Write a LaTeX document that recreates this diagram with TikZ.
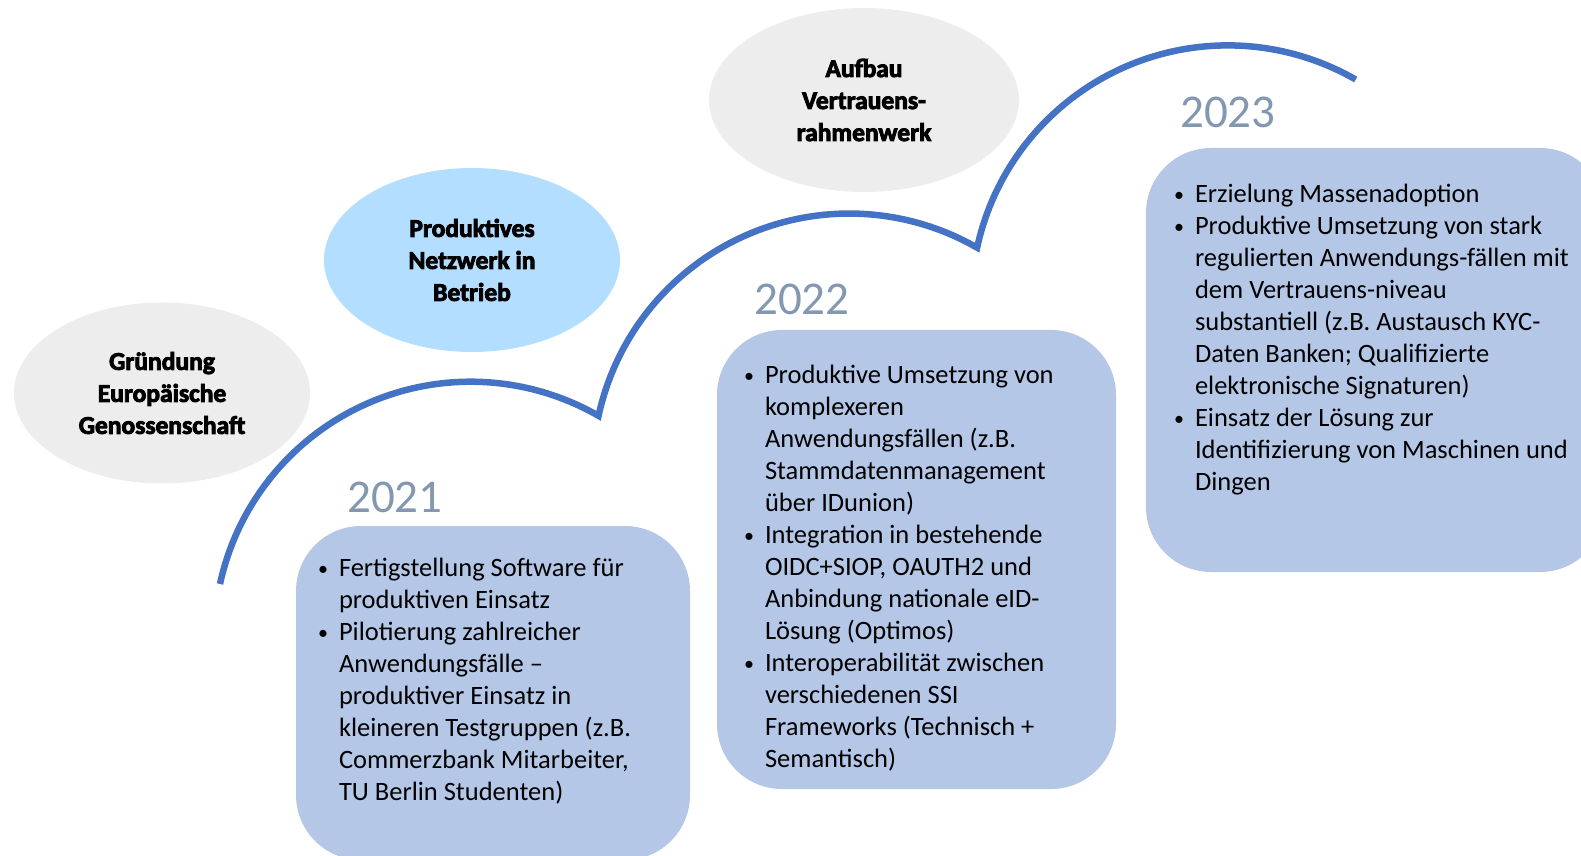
\documentclass[tikz,border=0pt]{standalone}
\usepackage{fontspec}
\setmainfont{Carlito}[BoldFeatures={FakeBold=3.5}]
\usepackage{tikz}
\usetikzlibrary{calc,shapes.geometric}
\definecolor{arcblue}{HTML}{4472C4}
\definecolor{boxblue}{HTML}{B4C7E7}
\definecolor{ovalgray}{HTML}{EDEDED}
\definecolor{ovalblue}{HTML}{B4DEFF}
\definecolor{yeargray}{HTML}{8497B0}
\newcommand{\itembullet}{\makebox[9pt][c]{\raisebox{1.5pt}{\fontsize{20}{20}\selectfont\textbullet}}}

\begin{document}
\begin{tikzpicture}[x=1pt,y=1pt,
  oval/.style={ellipse,inner sep=0pt,align=center,font=\fontsize{25.5}{32}\selectfont\bfseries},
  phase/.style={rounded corners=65pt,fill=boxblue,inner sep=0pt},
  year/.style={anchor=base west,inner sep=0pt,text=yeargray,font=\fontsize{47}{47}\selectfont},
  items/.style={anchor=base west,inner sep=0pt,font=\fontsize{26.5}{32}\selectfont}]
\useasboundingbox (0,0) rectangle (1581,855);
\clip (0,0) rectangle (1581,855);

\node[oval,fill=ovalgray,minimum width=296pt,minimum height=181pt] (gruendung) at (162,462)
  {Gründung\\Europäische\\Genossenschaft};
\node[oval,fill=ovalblue,minimum width=296pt,minimum height=184pt] (netzwerk) at (472,595)
  {Produktives\\Netzwerk in\\Betrieb};
\node[oval,fill=ovalgray,minimum width=310pt,minimum height=184pt] (rahmenwerk) at (864,755)
  {Aufbau\\Vertrauens-\\rahmenwerk};

\coordinate (s0) at (220,271);
\draw[arcblue,line width=6.5pt] (s0)
  arc[start angle=167.8,end angle=60.1,radius=256.5]
  arc[start angle=167.8,end angle=60.1,radius=256.5]
  arc[start angle=167.8,end angle=60.1,radius=256.5];

\node[phase,minimum width=394pt,minimum height=334pt] (box21) at (493,162) {};
\node[phase,minimum width=399pt,minimum height=459pt] (box22) at (916.5,295.5) {};
\node[phase,minimum width=459pt,minimum height=424pt] (box23) at (1375.5,495) {};

\node[year] (y21) at (347,343) {2021};
\node[year] (y22) at (754,540) {2022};
\node[year] (y23) at (1180,727) {2023};

\node[items] (txt21) at ($(box21.north west)+(22.5,-51)$) {%
  \begin{tabular}[t]{@{}l@{\hspace{11.5pt}}l@{}}
  \itembullet & Fertigstellung Software für\\
              & produktiven Einsatz\\
  \itembullet & Pilotierung zahlreicher\\
              & Anwendungsfälle –\\
              & produktiver Einsatz in\\
              & kleineren Testgruppen (z.B.\\
              & Commerzbank Mitarbeiter,\\
              & TU Berlin Studenten)
  \end{tabular}};
\node[items] (txt22) at ($(box22.north west)+(27.5,-54)$) {%
  \begin{tabular}[t]{@{}l@{\hspace{11.5pt}}l@{}}
  \itembullet & Produktive Umsetzung von\\
              & komplexeren\\
              & Anwendungsfällen (z.B.\\
              & Stammdatenmanagement\\
              & über IDunion)\\
  \itembullet & Integration in bestehende\\
              & OIDC+SIOP, OAUTH2 und\\
              & Anbindung nationale eID-\\
              & Lösung (Optimos)\\
  \itembullet & Interoperabilität zwischen\\
              & verschiedenen SSI\\
              & Frameworks (Technisch +\\
              & Semantisch)
  \end{tabular}};
\node[items] (txt23) at ($(box23.north west)+(28.5,-55)$) {%
  \begin{tabular}[t]{@{}l@{\hspace{11.5pt}}l@{}}
  \itembullet & Erzielung Massenadoption\\
  \itembullet & Produktive Umsetzung von stark\\
              & regulierten Anwendungs-fällen mit\\
              & dem Vertrauens-niveau\\
              & substantiell (z.B. Austausch KYC-\\
              & Daten Banken; Qualifizierte\\
              & elektronische Signaturen)\\
  \itembullet & Einsatz der Lösung zur\\
              & Identifizierung von Maschinen und\\
              & Dingen
  \end{tabular}};
\end{tikzpicture}
\end{document}
